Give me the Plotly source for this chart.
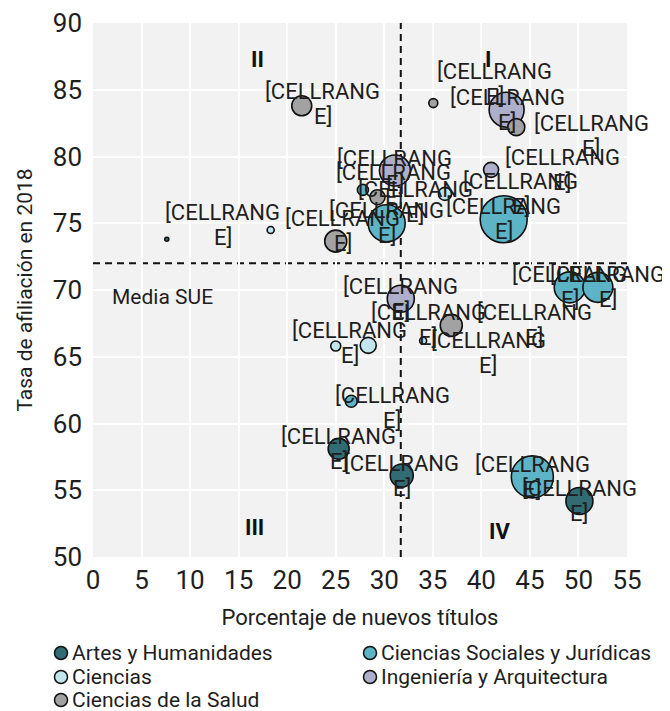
import plotly.graph_objects as go

# ---------------- data ----------------
categorias = ["Artes y Humanidades", "Ciencias Sociales y Jurídicas", "Ciencias",
              "Ingeniería y Arquitectura", "Ciencias de la Salud"]

artes_x = [7.6, 31.8, 50.1, 25.3]
artes_y = [73.8, 56.1, 54.2, 58.1]
artes_t = [4, 23, 27, 21]

sociales_x = [42.3, 30.25, 27.8, 49.1, 52.0, 45.25, 26.6]
sociales_y = [75.3, 75.0, 77.5, 70.2, 70.2, 56.0, 61.67]
sociales_t = [47, 37, 11, 31, 30, 42, 12]

ciencias_x = [18.3, 36.25, 25.0, 28.35, 34.0]
ciencias_y = [74.5, 77.2, 65.8, 65.85, 66.2]
ciencias_t = [7, 13, 10, 16, 7]

ingenieria_x = [42.6, 41.0, 31.1, 31.7]
ingenieria_y = [83.5, 79.0, 78.95, 69.35]
ingenieria_t = [35, 15, 31, 27]

salud_x = [21.5, 35.05, 43.6, 29.3, 25.0, 36.9]
salud_y = [83.8, 84.0, 82.2, 76.95, 73.66, 67.35]
salud_t = [20, 9, 17, 15, 22, 22]

media_x = 31.7
media_y = 72.0

x_ticks = list(range(0, 56, 5))
y_ticks = list(range(50, 91, 5))

etiqueta_l1 = "[CELLRANG"
etiqueta_l2 = "E]"

# ---------------- styles ----------------
colores = ["#316c75", "#5db4c7", "#c3e5ed", "#adafcb", "#a2a2a2"]
FONT = "Roboto"
TXT = "#1e1e1e"
PAGE = 8  # default body margin of the html page
W, H = 662, 703
ML, MT = 85, 15
PW, PH = 534, 534
MR, MB = W - ML - PW, H - MT - PH

# label offsets in pixels (dx right, dy up) per point; None = no visible label
off_artes = [(56, 14), (0, 0), (0, 0), (0, 0)]
off_sociales = [(0, 0), (0, 0), (31, 5), (0, 0), (10, 0), (0, 0), (41, -7)]
off_ciencias = [None, (76, 0), (14, 3), (60, 20), (65, -12)]
off_ingenieria = [(-12, 26), (71, 0), (0, 0), (0, 0)]
off_salud = [(21, 2), (74, -7), (75, -9), (38, -5), (7, 10), (83, 0)]

series = [
    (artes_x, artes_y, artes_t, off_artes),
    (sociales_x, sociales_y, sociales_t, off_sociales),
    (ciencias_x, ciencias_y, ciencias_t, off_ciencias),
    (ingenieria_x, ingenieria_y, ingenieria_t, off_ingenieria),
    (salud_x, salud_y, salud_t, off_salud),
]

fig = go.Figure()
annotations = []
shapes = []
LINE_GAP = 12.5
for nombre, color, (xs, ys, ts, offs) in zip(categorias, colores, series):
    fig.add_trace(go.Scatter(
        x=xs, y=ys, mode="markers", name=nombre, showlegend=False,
        marker=dict(size=ts, sizemode="diameter", sizeref=1, color=color,
                    opacity=1, line=dict(color="#111111", width=1.6)),
        hoverinfo="x+y+name",
    ))
    for xv, yv, off in zip(xs, ys, offs):
        if off is None:
            continue
        for txt, sh in ((etiqueta_l1, LINE_GAP), (etiqueta_l2, -LINE_GAP)):
            annotations.append(dict(
                x=xv, y=yv, xref="x", yref="y", text=txt, showarrow=False,
                xshift=off[0], yshift=off[1] + sh, align="center",
                font=dict(family=FONT, size=22, color=TXT),
            ))

# quadrant labels
for txt, qx, qy in [("I", 40.7, 87.3), ("II", 16.9, 87.3), ("III", 16.6, 52.2), ("IV", 41.9, 51.9)]:
    annotations.append(dict(x=qx, y=qy, xref="x", yref="y", text=f"<b>{txt}</b>",
                            showarrow=False, font=dict(family=FONT, size=22, color="#111111")))

annotations.append(dict(x=1.7, y=69.45, xref="x", yref="y", text="Media SUE", showarrow=False,
                        xanchor="left", font=dict(family=FONT, size=21, color=TXT)))

shapes += [
    dict(type="line", xref="x", yref="y", x0=media_x, x1=media_x, y0=50, y1=90,
         line=dict(color="#111111", width=2, dash="7px,5px"), layer="below"),
    dict(type="line", xref="x", yref="y", x0=0, x1=55, y0=media_y, y1=media_y,
         line=dict(color="#111111", width=2, dash="7px,5px"), layer="below"),
]

# manual legend (two columns); positions in window pixels, converted to paper coordinates
leg_cols = [61, 370]
leg_rows = [653, 677, 700]
leg_gap = 9
for i, (nombre, color) in enumerate(zip(categorias, colores)):
    cx = leg_cols[i % 2] - PAGE
    cy = leg_rows[i // 2] - PAGE
    px = (cx - ML) / PW
    py = (MT + PH - cy) / PH
    shapes.append(dict(type="circle", xref="paper", yref="paper",
                       xsizemode="pixel", ysizemode="pixel", xanchor=px, yanchor=py,
                       x0=-6.5, x1=6.5, y0=-6.5, y1=6.5,
                       fillcolor=color, line=dict(color="#111111", width=1.5)))
    annotations.append(dict(x=(cx + leg_gap - ML) / PW, y=py, xref="paper", yref="paper",
                            text=nombre, showarrow=False, xanchor="left", yanchor="middle",
                            font=dict(family=FONT, size=21, color=TXT)))

fig.update_layout(
    width=W, height=H,
    margin=dict(l=ML, r=MR, t=MT, b=MB, autoexpand=False),
    paper_bgcolor="white", plot_bgcolor="#f2f2f2",
    font=dict(family=FONT, size=21, color=TXT),
    showlegend=False,
    annotations=annotations,
    shapes=shapes,
)
fig.update_xaxes(range=[0, 55], tickvals=x_ticks, showgrid=True, gridcolor="white", gridwidth=2,
                 zeroline=False, showline=False, ticks="", automargin=False,
                 tickfont=dict(size=26, color=TXT), ticklabelstandoff=5,
                 title=dict(text="Porcentaje de nuevos títulos", font=dict(size=22, color=TXT), standoff=15))
fig.update_yaxes(range=[50, 90], tickvals=y_ticks, showgrid=True, gridcolor="white", gridwidth=2,
                 zeroline=False, showline=False, ticks="", automargin=False,
                 tickfont=dict(size=26, color=TXT), ticklabelstandoff=10,
                 title=dict(text="Tasa de afiliación en 2018", font=dict(size=21, color=TXT), standoff=14))

fig.write_html("out.html")
